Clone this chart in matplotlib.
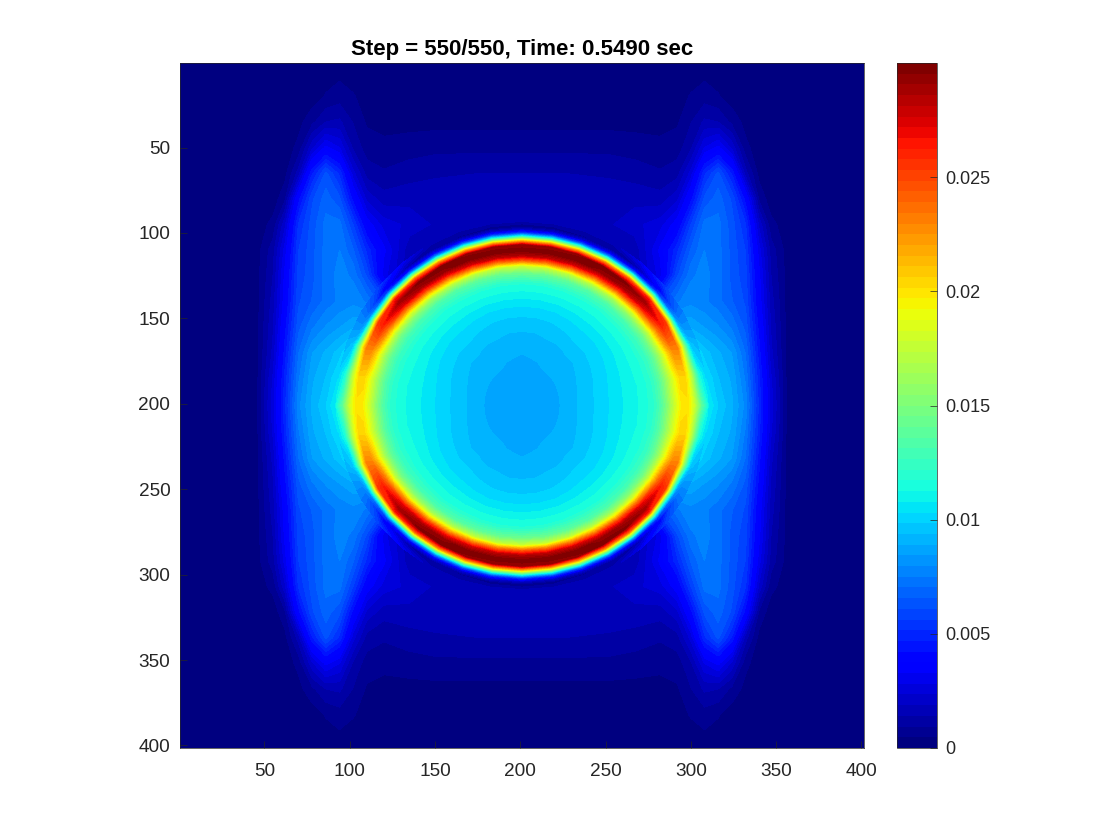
import numpy as np
import matplotlib
matplotlib.use("Agg")
import matplotlib.pyplot as plt

plt.rcParams["font.family"] = ["Liberation Sans", "DejaVu Sans"]

title = "Step = 550/550, Time: 0.5490 sec"
xy_ticks = [50, 100, 150, 200, 250, 300, 350, 400]
cbar_ticks = [0, 0.005, 0.01, 0.015, 0.02, 0.025]
cbar_labels = ["0", "0.005", "0.01", "0.015", "0.02", "0.025"]
center = 201.0
vmax = 0.03

# field inside the ring: one row per angle (0 = horizontal, 90 = vertical)
ring_angles = [0, 10, 20, 30, 40, 50, 60, 70, 80, 90]
ring_radii = [0, 20, 40, 55, 65, 72, 78, 82, 85, 88, 91, 94, 97, 99, 101, 103, 105, 109]
ring_values = [
    [.0085, .0088, .0097, .0105, .0111, .0114, .0122, .0135, .0150, .0168, .0185, .0198, .0200, .0192, .0178, .0160, .0140, .0112],
    [.0085, .0088, .0097, .0105, .0111, .0114, .0123, .0137, .0153, .0172, .0190, .0204, .0205, .0190, .0168, .0140, .0115, .0100],
    [.0085, .0088, .0096, .0104, .0111, .0115, .0125, .0140, .0158, .0182, .0208, .0228, .0230, .0200, .0155, .0115, .0095, .0090],
    [.0085, .0088, .0095, .0103, .0110, .0116, .0128, .0146, .0170, .0205, .0240, .0262, .0255, .0195, .0120, .0080, .0072, .0075],
    [.0085, .0088, .0094, .0102, .0110, .0117, .0131, .0155, .0185, .0230, .0272, .0288, .0262, .0185, .0110, .0055, .0035, .0055],
    [.0085, .0088, .0094, .0102, .0110, .0117, .0133, .0162, .0200, .0252, .0288, .0297, .0240, .0165, .0090, .0035, .0014, .0030],
    [.0085, .0088, .0093, .0101, .0110, .0118, .0136, .0170, .0215, .0265, .0294, .0297, .0220, .0142, .0075, .0030, .0010, .0015],
    [.0085, .0087, .0093, .0100, .0110, .0118, .0140, .0175, .0228, .0277, .0298, .0294, .0202, .0125, .0062, .0023, .0008, .0015],
    [.0085, .0087, .0092, .0100, .0110, .0118, .0143, .0177, .0235, .0282, .0299, .0291, .0192, .0118, .0057, .0021, .0006, .0017],
    [.0085, .0086, .0092, .0100, .0110, .0118, .0145, .0180, .0240, .0285, .0299, .0290, .0190, .0115, .0055, .0020, .0005, .0018],
]

# field outside the ring, upper left quarter of the image
outer_x = [1, 45, 55, 62, 70, 78, 86, 94, 102, 110, 120, 135, 150, 175, 201]
outer_y = [1, 20, 35, 50, 65, 80, 95, 110, 125, 140, 155, 170, 185, 201]
outer_values = [
    [.0002, .0002, .0002, .0002, .0002, .0002, .0002, .0002, .0002, .0002, .0002, .0002, .0002, .0002, .0002],
    [.0002, .0002, .0002, .0002, .0002, .0002, .0005, .0007, .0005, .0003, .0002, .0002, .0002, .0002, .0002],
    [.0002, .0002, .0002, .0002, .0003, .0008, .0014, .0015, .0009, .0004, .0003, .0003, .0003, .0003, .0003],
    [.0002, .0002, .0002, .0002, .0006, .0022, .0034, .0028, .0013, .0007, .0006, .0007, .0008, .0008, .0008],
    [.0002, .0002, .0002, .0003, .0016, .0046, .0062, .0050, .0025, .0012, .0010, .0012, .0013, .0014, .0014],
    [.0002, .0002, .0002, .0008, .0040, .0060, .0068, .0062, .0040, .0022, .0016, .0017, .0018, .0018, .0018],
    [.0002, .0002, .0006, .0022, .0052, .0063, .0072, .0072, .0056, .0036, .0026, .0022, .0018, .0018, .0018],
    [.0002, .0002, .0012, .0030, .0056, .0064, .0072, .0075, .0066, .0050, .0034, .0015, .0015, .0015, .0015],
    [.0002, .0002, .0014, .0034, .0058, .0064, .0072, .0077, .0074, .0060, .0030, .0015, .0015, .0015, .0015],
    [.0002, .0002, .0016, .0036, .0060, .0066, .0072, .0076, .0078, .0074, .0060, .0060, .0060, .0060, .0060],
    [.0002, .0002, .0018, .0040, .0064, .0074, .0080, .0084, .0088, .0090, .0090, .0090, .0090, .0090, .0090],
    [.0002, .0002, .0020, .0044, .0070, .0084, .0090, .0096, .0108, .0110, .0110, .0110, .0110, .0110, .0110],
    [.0002, .0002, .0024, .0048, .0074, .0088, .0094, .0104, .0130, .0130, .0130, .0130, .0130, .0130, .0130],
    [.0002, .0002, .0026, .0050, .0078, .0090, .0098, .0112, .0170, .0170, .0170, .0170, .0170, .0170, .0170],
]

# mirror the quarter tables into the whole image, the picture is symmetric
outer = np.array(outer_values)
outer = np.vstack([outer, outer[-2::-1]])
outer = np.hstack([outer, outer[:, -2::-1]])
ox = np.concatenate([outer_x, 2 * center - np.array(outer_x[-2::-1])])
oy = np.concatenate([outer_y, 2 * center - np.array(outer_y[-2::-1])])

ring = np.array(ring_values)
ring = np.vstack([ring, ring[-2::-1]])
ring = np.vstack([ring, ring[-2::-1]])
ang = np.radians(np.arange(0, 361, 10))
rr, tt = np.meshgrid(ring_radii, ang)
rx = center + rr * np.cos(tt)
ry = center + rr * np.sin(tt)

fig = plt.figure(figsize=(11.2, 8.4), dpi=100)
ax = fig.add_axes([180 / 1120, 92 / 840, 684 / 1120, 685 / 840])
cax = fig.add_axes([897 / 1120, 92 / 840, 40 / 1120, 685 / 840])

cmap = plt.get_cmap("jet", 64)
levels = np.linspace(0, vmax, 65)
cs = ax.contourf(ox, oy, outer, levels=levels, cmap=cmap, vmin=0, vmax=vmax, antialiased=False)
ax.contourf(rx, ry, ring, levels=levels, cmap=cmap, vmin=0, vmax=vmax, antialiased=False)

ax.set_xlim(0.5, 401.5)
ax.set_ylim(401.5, 0.5)
ax.set_xticks(xy_ticks)
ax.set_yticks(xy_ticks)
ax.tick_params(direction="in", length=5, width=0.5, labelsize=13.7, colors="#262626")
ax.tick_params(axis="x", pad=11)
ax.tick_params(axis="y", pad=7)
ax.set_title(title, fontsize=16, fontweight="bold", pad=6)
for s in ax.spines.values():
    s.set_linewidth(0.5)
    s.set_color("#262626")

cb = fig.colorbar(cs, cax=cax)
cb.set_ticks(cbar_ticks)
cb.set_ticklabels(cbar_labels)
cb.ax.tick_params(direction="in", length=5, width=0.5, labelsize=13, colors="#262626", pad=6)
cb.outline.set_linewidth(0.5)
cb.outline.set_edgecolor("#262626")

fig.savefig("out.png", dpi=100)
